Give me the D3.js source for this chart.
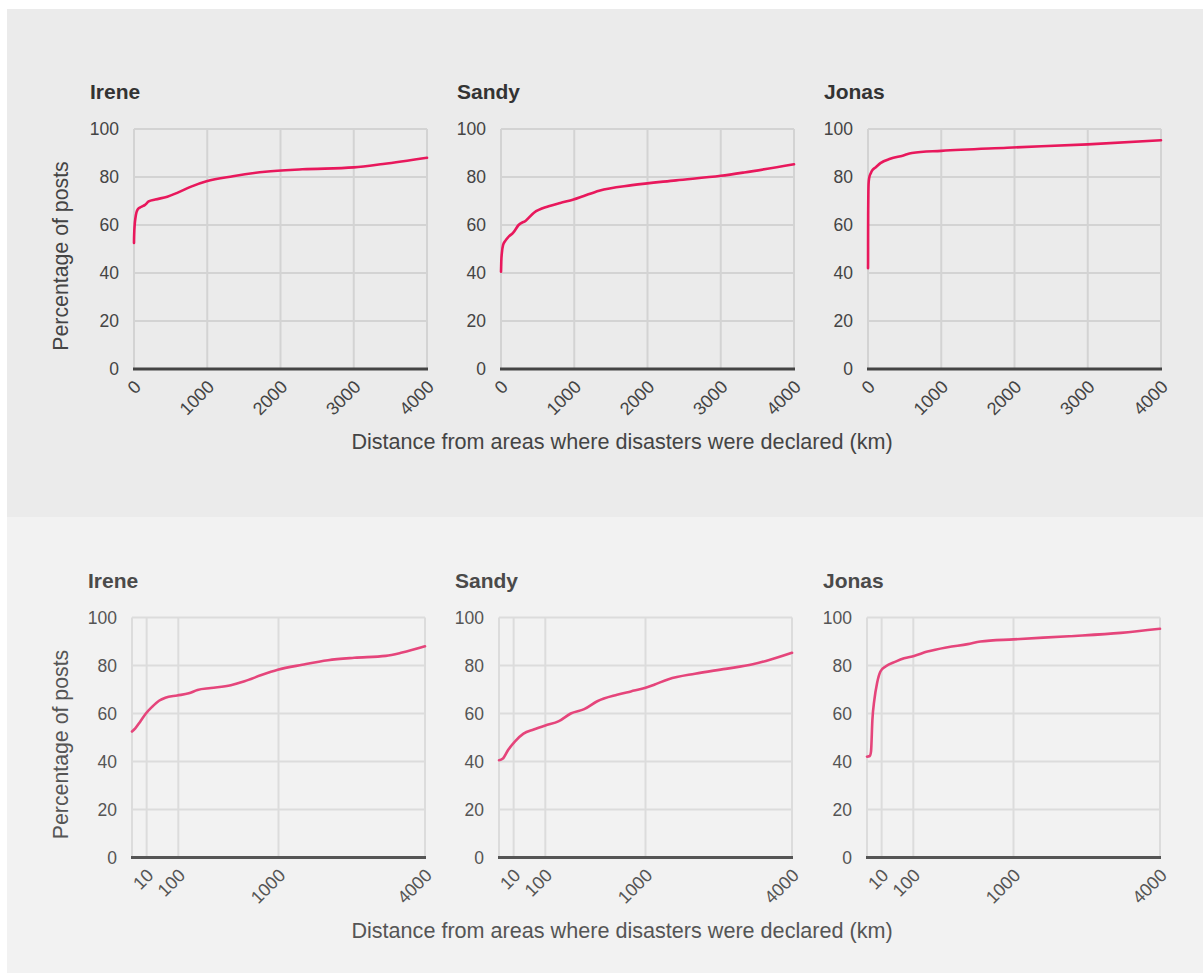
<!DOCTYPE html>
<html>
<head>
<meta charset="utf-8">
<script src="https://cdn.jsdelivr.net/npm/d3@7"></script>
<style>
  html, body { margin: 0; padding: 0; background: #ffffff; }
  svg { display: block; font-family: "Liberation Sans", Arial, Helvetica, sans-serif; }
</style>
</head>
<body>
<svg id="chart" width="1203" height="973"></svg>
<script>
// ---- Data (distance km, cumulative percentage of posts) ----
const storms = ["Irene", "Sandy", "Jonas"];

const ireneData = [
  [0, 52.5], [0.5, 53.8], [3, 56.5], [9, 60.0], [19, 62.8], [34, 65.3], [52, 66.6],
  [95, 67.5], [150, 68.4], [200, 69.8], [290, 70.6], [455, 71.8], [590, 73.4],
  [780, 76.0], [990, 78.2], [1350, 80.3], [1790, 82.2], [2300, 83.2], [3000, 84.0],
  [3400, 85.4], [4000, 88.0]
];
const sandyData = [
  [0, 40.5], [0.6, 41.1], [4, 44.9], [12, 48.4], [28, 51.6], [56, 53.3], [100, 55.0],
  [167, 56.8], [240, 60.0], [338, 61.8], [450, 65.1], [650, 67.8], [810, 69.2],
  [990, 70.6], [1130, 72.1], [1340, 74.3], [1790, 76.6], [2390, 78.6], [3000, 80.5],
  [3320, 81.9], [4000, 85.3]
];
const jonasData = [
  [0, 42.0], [0.35, 42.3], [0.75, 44.1], [1.35, 57.3], [2.5, 65.6], [4.7, 72.6],
  [8.4, 77.5], [16, 79.6], [38, 81.6], [64, 83.0], [103, 84.0], [170, 85.8],
  [303, 87.6], [473, 88.9], [600, 90.0], [1000, 90.9], [1900, 92.2], [3000, 93.6],
  [4000, 95.3]
];
const seriesByStorm = { Irene: ireneData, Sandy: sandyData, Jonas: jonasData };

const yTicks = [0, 20, 40, 60, 80, 100];
const xTicksLinear = [0, 1000, 2000, 3000, 4000];
const xTicksSqrt = [10, 100, 1000, 4000];
const xDomain = [0, 4000];
const yDomain = [0, 100];

const yAxisTitle = "Percentage of posts";
const xAxisTitle = "Distance from areas where disasters were declared (km)";

// ---- Layout ----
const svg = d3.select("#chart");

const rows = [
  { bgY: 9, bgH: 508, bg: "#ebebeb", plotTop: 129, plotBottom: 369, titleY: 99, xTitleY: 449,
    scaleType: "linear", ticks: xTicksLinear, lefts: [134, 501, 868],
    line: "#e8185c", grid: "#d3d3d3", base: "#444444", titleColor: "#333333", tickColor: "#444444" },
  { bgY: 517, bgH: 456, bg: "#f2f2f2", plotTop: 617.5, plotBottom: 857.5, titleY: 588, xTitleY: 938,
    scaleType: "sqrt", ticks: xTicksSqrt, lefts: [132, 499, 867],
    line: "#e5457b", grid: "#dcdcdc", base: "#555555", titleColor: "#4a4a4a", tickColor: "#555555" }
];
const plotW = 293;

rows.forEach(row => {
  svg.append("rect").attr("x", 7).attr("y", row.bgY).attr("width", 1203 - 7).attr("height", row.bgH)
    .attr("fill", row.bg);

  const y = d3.scaleLinear().domain(yDomain).range([row.plotBottom, row.plotTop]);

  storms.forEach((name, i) => {
    const left = row.lefts[i];
    const x = (row.scaleType === "linear" ? d3.scaleLinear() : d3.scaleSqrt())
      .domain(xDomain).range([left, left + plotW]);
    const g = svg.append("g");

    // horizontal grid
    g.append("g").selectAll("line").data(yTicks.filter(t => t > 0)).join("line")
      .attr("x1", left).attr("x2", left + plotW)
      .attr("y1", d => y(d)).attr("y2", d => y(d))
      .attr("stroke", row.grid).attr("stroke-width", 2);

    // vertical grid (left border + ticks)
    const vLines = [0].concat(row.ticks.filter(t => t !== 0));
    g.append("g").selectAll("line").data(vLines).join("line")
      .attr("x1", d => x(d)).attr("x2", d => x(d))
      .attr("y1", row.plotTop).attr("y2", row.plotBottom)
      .attr("stroke", row.grid).attr("stroke-width", 2);

    // baseline
    g.append("line").attr("x1", left - 1).attr("x2", left + plotW + 1)
      .attr("y1", y(0)).attr("y2", y(0))
      .attr("stroke", row.base).attr("stroke-width", 3);

    // y tick labels
    g.append("g").selectAll("text").data(yTicks).join("text")
      .attr("x", left - 15).attr("y", d => y(d)).attr("dy", "0.35em")
      .attr("text-anchor", "end").attr("font-size", 17.5).attr("fill", row.tickColor)
      .text(d => d);

    // x tick labels (rotated)
    g.append("g").selectAll("text").data(row.ticks).join("text")
      .attr("text-anchor", "end").attr("font-size", 18).attr("fill", row.tickColor)
      .attr("transform", d => `translate(${x(d) + 8},${row.plotBottom + 19}) rotate(-45)`)
      .text(d => d);

    // line
    const lineGen = d3.line().x(d => x(d[0])).y(d => y(d[1])).curve(d3.curveMonotoneX);
    g.append("path").datum(seriesByStorm[name])
      .attr("d", lineGen).attr("fill", "none")
      .attr("stroke", row.line).attr("stroke-width", 2.6)
      .attr("stroke-linejoin", "round").attr("stroke-linecap", "round");

    // title
    g.append("text").attr("x", left - 44).attr("y", row.titleY)
      .attr("font-size", 21).attr("font-weight", "bold").attr("fill", row.titleColor)
      .text(name);
  });

  // y axis title
  const cy = (row.plotTop + row.plotBottom) / 2 + 7;
  svg.append("text").attr("transform", `translate(68,${cy}) rotate(-90)`)
    .attr("text-anchor", "middle").attr("font-size", 21.3).attr("fill", row.tickColor)
    .text(yAxisTitle);

  // x axis title
  svg.append("text").attr("x", 622).attr("y", row.xTitleY)
    .attr("text-anchor", "middle").attr("font-size", 21.6).attr("fill", row.tickColor)
    .text(xAxisTitle);
});
</script>
</body>
</html>
